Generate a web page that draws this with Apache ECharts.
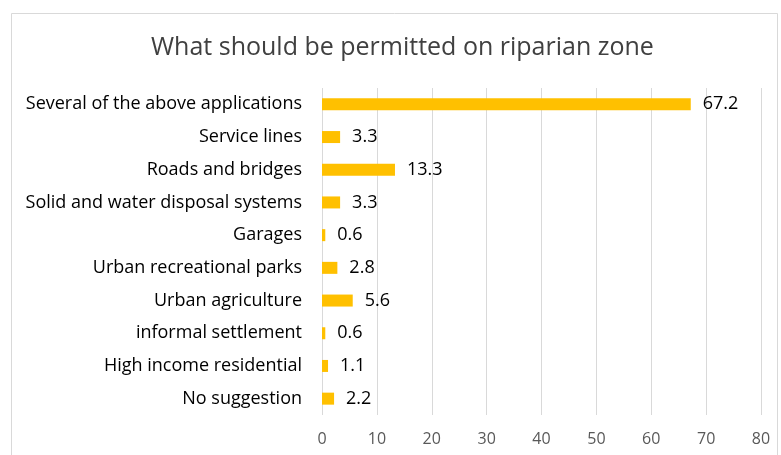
<!DOCTYPE html>
<html><head><meta charset="utf-8">
<script src="https://cdn.jsdelivr.net/npm/echarts@6/dist/echarts.min.js"></script>
<style>html,body{margin:0;padding:0;background:#fff}#c{width:781px;height:455px}</style>
</head><body><div id="c"></div>
<script>
const categories = ["No suggestion","High income residential","informal settlement","Urban agriculture","Urban recreational parks","Garages","Solid and water disposal systems","Roads and bridges","Service lines","Several of the above applications"];
const values = [2.2,1.1,0.6,5.6,2.8,0.6,3.3,13.3,3.3,67.2];
const xTicks = {min:0,max:80,interval:10};
const titleText = "What should be permitted on riparian zone";
const FONT = "Open Sans";
const chart = echarts.init(document.getElementById('c'), null, {renderer:'canvas'});
chart.setOption({
  animation:false,
  backgroundColor:'#fff',
  graphic:[{type:'rect',left:9,top:11,shape:{width:766,height:500},style:{fill:'none',stroke:'#d9d9d9',lineWidth:1},silent:true}],
  title:{text:titleText,left:146,top:30,textStyle:{fontFamily:FONT,fontSize:25,fontWeight:'normal',color:'#404040'}},
  grid:{left:322,right:20,top:88,bottom:40,containLabel:false},
  xAxis:{type:'value',min:xTicks.min,max:xTicks.max,interval:xTicks.interval,
    axisLine:{show:false},axisTick:{show:false},
    axisLabel:{fontFamily:FONT,fontSize:16,color:'#595959',margin:16},
    splitLine:{show:true,lineStyle:{color:'#d9d9d9',width:1}}},
  yAxis:{type:'category',data:categories,axisLine:{show:false},axisTick:{show:false},
    axisLabel:{fontFamily:FONT,fontSize:18,color:'#000',margin:20,padding:[4,0,0,0]}},
  series:[{type:'bar',data:values,barWidth:12,itemStyle:{color:'#ffc000'},
    label:{show:true,position:'right',distance:12,fontFamily:FONT,fontSize:18,color:'#000',padding:[4,0,0,0]}}]
});
</script></body></html>
